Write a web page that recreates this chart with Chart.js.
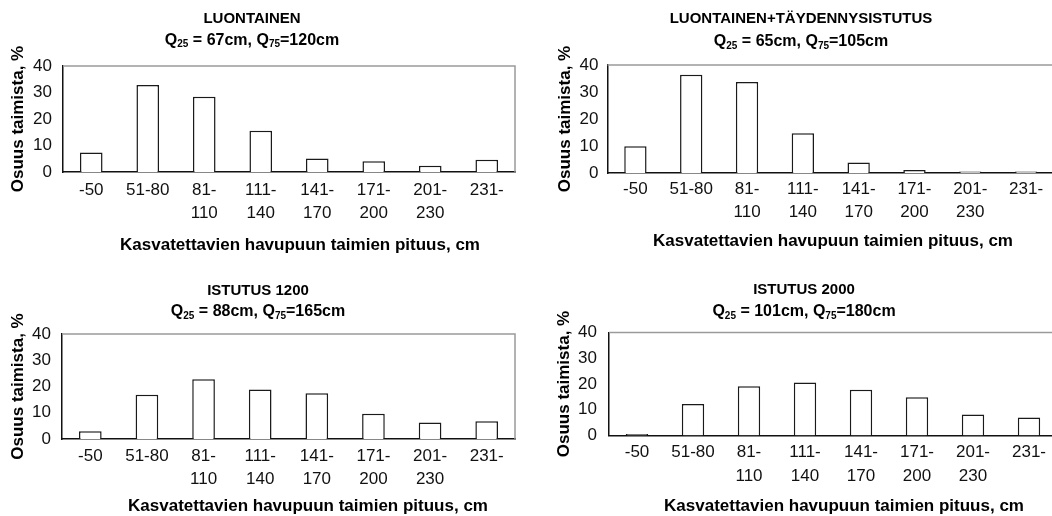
<!DOCTYPE html>
<html>
<head>
<meta charset="utf-8">
<title>Taimien pituusjakaumat</title>
<script src="https://cdn.jsdelivr.net/npm/chart.js@4.4.1/dist/chart.umd.min.js"></script>
<style>
  html, body { margin: 0; padding: 0; background: #fff; overflow: hidden; }
  body { width: 1052px; height: 516px; position: relative; }
  .panel { position: absolute; overflow: hidden; }
  canvas { display: block; }
</style>
</head>
<body>
<div class="panel" style="left:0;top:0;width:522px;height:258px"><canvas id="c1" width="522" height="258"></canvas></div>
<div class="panel" style="left:522px;top:0;width:530px;height:258px"><canvas id="c2" width="535" height="258"></canvas></div>
<div class="panel" style="left:0;top:258px;width:522px;height:258px"><canvas id="c3" width="522" height="258"></canvas></div>
<div class="panel" style="left:522px;top:258px;width:530px;height:258px"><canvas id="c4" width="535" height="258"></canvas></div>

<script>
// height classes (x axis tick labels, two lines where the label wraps)
const categories = [['-50'], ['51-80'], ['81-', '110'], ['111-', '140'], ['141-', '170'], ['171-', '200'], ['201-', '230'], ['231-']]

// share of seedlings, %
const luontainen = [7.4, 32.8, 28.4, 15.6, 5.1, 4.1, 2.4, 4.6]
const luontainenTaydennys = [9.9, 36.4, 33.7, 14.7, 3.9, 1.1, 0.6, 0.6]
const istutus1200 = [3.0, 16.9, 22.8, 18.9, 17.4, 9.6, 6.3, 6.8]
const istutus2000 = [0.6, 12.2, 19.1, 20.6, 17.8, 14.9, 8.2, 7.0]

const panelNames = ['LUONTAINEN', 'LUONTAINEN+TÄYDENNYSISTUTUS', 'ISTUTUS 1200', 'ISTUTUS 2000']
const q25 = [67, 65, 88, 101]
const q75 = [120, 105, 165, 180]

const yTicks = { min: 0, max: 40, step: 10 }
const yTitle = 'Osuus taimista, %'
const xTitle = 'Kasvatettavien havupuun taimien pituus, cm'

const FONT = '"Liberation Sans", Arial, Helvetica, sans-serif'

// placement of each panel inside its own canvas
const layouts = [
  { id: 'c1', w: 522, plotL: 63, plotR: 515, plotT: 66, plotB: 172, titleX: 252, t1: 18.5, t2: 40.5, xtX: 300, xtY: 245, yTitlePad: 8, yTickPad: 11, xTickPad: 6 },
  { id: 'c2', w: 535, plotL: 85.5, plotR: 532, plotT: 65, plotB: 173, titleX: 279, t1: 19, t2: 42, xtX: 311, xtY: 241, yTitlePad: 33, yTickPad: 9, xTickPad: 4 },
  { id: 'c3', w: 522, plotL: 62, plotR: 515, plotT: 76, plotB: 181, titleX: 258, t1: 32.5, t2: 54, xtX: 308, xtY: 248, yTitlePad: 8, yTickPad: 11, xTickPad: 5 },
  { id: 'c4', w: 535, plotL: 87, plotR: 535, plotT: 74.5, plotB: 177.5, titleX: 282, t1: 32, t2: 54, xtX: 322, xtY: 248, yTitlePad: 32, yTickPad: 12, xTickPad: 5 }
]
const seriesList = [luontainen, luontainenTaydennys, istutus1200, istutus2000]

// gray top/right frame, two line heading with subscripts and the x axis title
const headline = {
  id: 'headline',
  beforeDatasetsDraw(chart) {
    const ctx = chart.ctx
    const a = chart.chartArea
    ctx.save()
    ctx.strokeStyle = '#9b9b9b'
    ctx.lineWidth = 1.5
    ctx.beginPath()
    ctx.moveTo(a.left, a.top)
    ctx.lineTo(a.right, a.top)
    ctx.lineTo(a.right, a.bottom)
    ctx.stroke()
    ctx.restore()
  },
  afterDraw(chart, args, opts) {
    const ctx = chart.ctx
    ctx.save()
    ctx.fillStyle = '#000'
    ctx.textBaseline = 'middle'
    ctx.textAlign = 'center'
    ctx.font = 'bold 15px ' + FONT
    ctx.fillText(opts.name, opts.x, opts.y1)

    // x axis title, it sits a bit right of the plot centre in the original
    ctx.font = 'bold 17px ' + FONT
    ctx.fillText(opts.xTitle, opts.xtX, opts.xtY)

    const big = 'bold 16px ' + FONT
    const small = 'bold 10px ' + FONT
    const parts = [
      ['Q', big, 0], ['25', small, 4],
      [' = ' + opts.q25 + 'cm, Q', big, 0], ['75', small, 4],
      ['=' + opts.q75 + 'cm', big, 0]
    ]
    let total = 0
    parts.forEach(p => { ctx.font = p[1]; total += ctx.measureText(p[0]).width })
    let x = opts.x - total / 2
    ctx.textAlign = 'left'
    parts.forEach(p => {
      ctx.font = p[1]
      ctx.fillText(p[0], x, opts.y2 + p[2])
      x += ctx.measureText(p[0]).width
    })
    ctx.restore()
  }
}

layouts.forEach((lay, i) => {
  const ctx = document.getElementById(lay.id)
  new Chart(ctx, {
    type: 'bar',
    data: {
      labels: categories,
      datasets: [{
        data: seriesList[i],
        backgroundColor: '#fff',
        borderColor: '#1a1a1a',
        borderWidth: 1.5,
        categoryPercentage: 1,
        barPercentage: 0.4
      }]
    },
    options: {
      responsive: false,
      animation: false,
      layout: {
        padding: { left: 0, top: lay.plotT, right: lay.w - lay.plotR, bottom: 0 }
      },
      plugins: {
        legend: { display: false },
        tooltip: { enabled: false },
        headline: {
          name: panelNames[i], q25: q25[i], q75: q75[i],
          x: lay.titleX, y1: lay.t1, y2: lay.t2,
          xTitle: xTitle, xtX: lay.xtX, xtY: lay.xtY
        }
      },
      scales: {
        x: {
          grid: { display: false, drawTicks: false },
          border: { color: '#111', width: 1.5 },
          ticks: {
            color: '#111',
            autoSkip: false,
            maxRotation: 0,
            padding: lay.xTickPad,
            font: { family: FONT, size: 17, lineHeight: 1.4 }
          },
          afterFit: (scale) => { scale.height = 258 - lay.plotB }
        },
        y: {
          min: yTicks.min,
          max: yTicks.max,
          grid: { display: false, drawTicks: false },
          border: { color: '#111', width: 1.5 },
          ticks: {
            stepSize: yTicks.step,
            color: '#111',
            padding: lay.yTickPad,
            font: { family: FONT, size: 17 }
          },
          title: {
            display: true,
            text: yTitle,
            color: '#000',
            font: { family: FONT, size: 17, weight: 'bold', lineHeight: 1.2 },
            padding: { top: lay.yTitlePad, bottom: 0 }
          },
          afterFit: (scale) => { scale.width = lay.plotL }
        }
      }
    },
    plugins: [headline]
  })
})
</script>
</body>
</html>
